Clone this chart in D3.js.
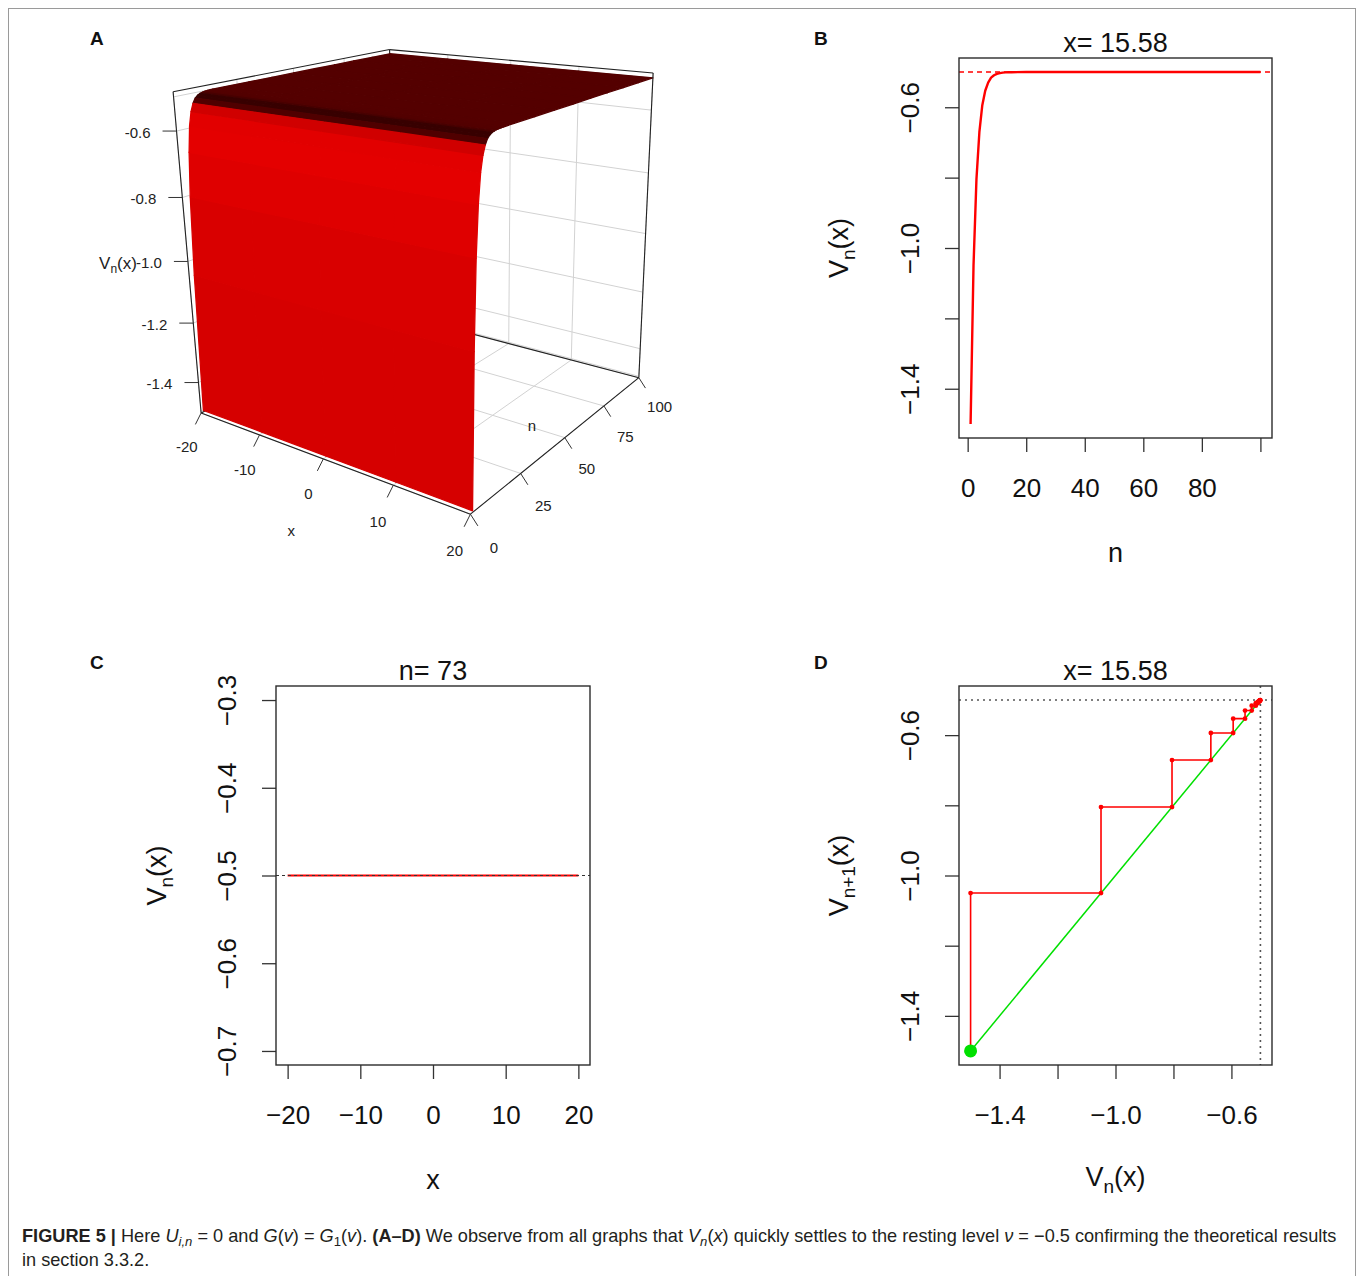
<!DOCTYPE html>
<html>
<head>
<meta charset="utf-8">
<script src="https://cdn.jsdelivr.net/npm/d3@7/dist/d3.min.js"></script>
<style>
html,body{margin:0;padding:0;background:#fff;}
text{font-family:"Liberation Sans",Arial,Helvetica,sans-serif;}
</style>
</head>
<body>
<svg id="fig" width="1360" height="1276" xmlns="http://www.w3.org/2000/svg"></svg>
<script>
// ================= DATA =================
// Panel B: V_n(x) at x = 15.58 as a function of n
const nIter = [1,2,3,4,5,6,7,8,9,10,11,12,13,14,15,20,30,40,50,60,70,80,90,100];
const vIter = [-1.5,-1.05,-0.805,-0.671,-0.594,-0.553,-0.530,-0.516,-0.509,-0.505,-0.503,-0.5015,-0.501,-0.5005,-0.5003,-0.5,-0.5,-0.5,-0.5,-0.5,-0.5,-0.5,-0.5,-0.5];
const restLevel = -0.5;
// Panel D: cobweb iterates V_0, V_1, ...
const cobwebV = [-1.5,-1.05,-0.805,-0.671,-0.594,-0.553,-0.530,-0.516,-0.509,-0.505,-0.503,-0.5015,-0.501,-0.5005];
// Panel C: V_73(x)
const cX = [-20,-10,0,10,20];
const cV = [-0.5,-0.5,-0.5,-0.5,-0.5];
// Panel A: surface V_n(x)
const surfX = [-20,-10,0,10,20];
const surfN = [1,2,3,4,5,6,7,8,9,10,11,12,13,14,15,20,30,40,50,60,70,80,90,100];
const surfV = [-1.5,-1.05,-0.805,-0.671,-0.594,-0.553,-0.530,-0.516,-0.509,-0.505,-0.503,-0.5015,-0.501,-0.5005,-0.5003,-0.5,-0.5,-0.5,-0.5,-0.5,-0.5,-0.5,-0.5,-0.5];

// tick values / labels
const aXTicks = [-20,-10,0,10,20], aXLabels = ["-20","-10","0","10","20"];
const aNTicks = [0,25,50,75,100], aNLabels = ["0","25","50","75","100"];
const aZTicks = [-1.4,-1.2,-1.0,-0.8,-0.6], aZLabels = ["-1.4","-1.2","-1.0","-0.8","-0.6"];
const bXTicks = [0,20,40,60,80,100], bXLabels = ["0","20","40","60","80",""];
const bYTicks = [-1.4,-1.2,-1.0,-0.8,-0.6], bYLabels = ["\u22121.4","","\u22121.0","","\u22120.6"];
const cXTicks = [-20,-10,0,10,20], cXLabels = ["\u221220","\u221210","0","10","20"];
const cYTicks = [-0.7,-0.6,-0.5,-0.4,-0.3], cYLabels = ["\u22120.7","\u22120.6","\u22120.5","\u22120.4","\u22120.3"];
const dXTicks = [-1.4,-1.2,-1.0,-0.8,-0.6], dXLabels = ["\u22121.4","","\u22121.0","","\u22120.6"];
const dYTicks = [-1.4,-1.2,-1.0,-0.8,-0.6], dYLabels = ["\u22121.4","","\u22121.0","","\u22120.6"];

// view calibration of the 3D box: (x, n, z) -> screen position
const boxZ = [-1.505,-0.485];
const viewAnchors = [
 [-20,0,-1.505, 201.7,413.2],
 [-20,0,-1.4, 198.8,381.7],
 [-20,0,-1.2, 193.4,321.7],
 [-20,0,-1.0, 187.9,261.0],
 [-20,0,-0.8, 182.3,198.3],
 [-20,0,-0.6, 176.5,131.7],
 [-20,0,-0.485, 172.7,92.0],
 [-10,0,-1.505, 259.5,436.0],
 [0,0,-1.505, 322.5,460.0],
 [10,0,-1.505, 390.5,485.5],
 [20,0,-1.505, 471.7,513.3],
 [20,25,-1.505, 523.3,472.0],
 [20,50,-1.505, 565.0,437.5],
 [20,75,-1.505, 603.3,406.5],
 [20,100,-1.505, 638.3,378.3],
 [20,100,-0.485, 653.0,73.0],
 [-20,100,-0.485, 390.0,49.0]
];

// ================= HELPERS =================
const svg = d3.select("#fig");
const FONT = '"Liberation Sans",Arial,Helvetica,sans-serif';

function solveLin(A, b){
  const n=b.length, M=A.map((r,i)=>[...r,b[i]]);
  for(let c=0;c<n;c++){
    let p=c; for(let r=c+1;r<n;r++) if(Math.abs(M[r][c])>Math.abs(M[p][c])) p=r;
    [M[c],M[p]]=[M[p],M[c]];
    for(let r=0;r<n;r++){ if(r===c) continue; const f=M[r][c]/M[c][c]; for(let k=c;k<=n;k++) M[r][k]-=f*M[c][k]; }
  }
  return M.map((r,i)=>r[n]/r[i]);
}
function fitCamera(corr){
  const rows=[], rhs=[];
  corr.forEach(([X,Y,Z,u0,v0])=>{
    const u=(u0-400)/300, v=(v0-300)/300;
    rows.push([X,Y,Z,1,0,0,0,0,-u*X,-u*Y,-u*Z]); rhs.push(u);
    rows.push([0,0,0,0,X,Y,Z,1,-v*X,-v*Y,-v*Z]); rhs.push(v);
  });
  const N=Array.from({length:11},()=>Array(11).fill(0)), r=Array(11).fill(0);
  rows.forEach((row,i)=>{ for(let a=0;a<11;a++){ r[a]+=row[a]*rhs[i]; for(let b=0;b<11;b++) N[a][b]+=row[a]*row[b]; } });
  const p=solveLin(N,r);
  return (X,Y,Z)=>{
    const w=p[8]*X+p[9]*Y+p[10]*Z+1;
    const u=(p[0]*X+p[1]*Y+p[2]*Z+p[3])/w, v=(p[4]*X+p[5]*Y+p[6]*Z+p[7])/w;
    return [u*300+400, v*300+300, w];
  };
}

// ================= FRAME & LETTERS =================
svg.append("rect").attr("x",8.5).attr("y",8.5).attr("width",1347).attr("height",1320)
  .attr("fill","none").attr("stroke","#9a9a9a").attr("stroke-width",1);
[["A",90,45],["B",814,45],["C",90,669],["D",814,669]].forEach(([t,x,y])=>{
  svg.append("text").attr("x",x).attr("y",y).attr("font-size",19).attr("font-weight","bold").attr("fill","#111").text(t);
});

// ================= PANEL A (3D) =================
(function(){
  const g = svg.append("g");
  const X0=-20,X1=20,N0=0,N1=100,Z0=boxZ[0],Z1=boxZ[1];
  const sx=d3.scaleLinear().domain([X0,X1]).range([0,1]);
  const sn=d3.scaleLinear().domain([N0,N1]).range([0,1]);
  const sz=d3.scaleLinear().domain([Z0,Z1]).range([0,1]);
  const cam=fitCamera(viewAnchors.map(a=>[sx(a[0]),sn(a[1]),sz(a[2]),a[3],a[4]]));
  const P=(x,n,z)=>cam(sx(x),sn(n),sz(z));
  const path=(pts)=>"M"+pts.map(p=>p[0].toFixed(2)+","+p[1].toFixed(2)).join("L");
  const seg=(a,b,col,w)=>g.append("path").attr("d",path([P(...a),P(...b)])).attr("stroke",col).attr("stroke-width",w).attr("fill","none");

  // back panels
  [[[X0,N0,Z0],[X1,N0,Z0],[X1,N1,Z0],[X0,N1,Z0]],
   [[X0,N1,Z0],[X1,N1,Z0],[X1,N1,Z1],[X0,N1,Z1]],
   [[X0,N0,Z0],[X0,N1,Z0],[X0,N1,Z1],[X0,N0,Z1]]].forEach(q=>{
     g.append("path").attr("d",path(q.map(c=>P(...c)))+"Z").attr("fill","#fff");
  });
  const gridCol="#d2d2d2";
  const zGrid=[-1.5].concat(aZTicks,[-0.5]);
  aXTicks.forEach(t=>{ seg([t,N0,Z0],[t,N1,Z0],gridCol,1); seg([t,N1,Z0],[t,N1,Z1],gridCol,1); });
  aNTicks.forEach(t=>{ seg([X0,t,Z0],[X1,t,Z0],gridCol,1); seg([X0,t,Z0],[X0,t,Z1],gridCol,1); });
  zGrid.forEach(t=>{ seg([X0,N1,t],[X1,N1,t],gridCol,1); seg([X0,N0,t],[X0,N1,t],gridCol,1); });
  // hidden back edges
  seg([X0,N1,Z0],[X1,N1,Z0],"#222",1.1);
  seg([X0,N1,Z0],[X0,N1,Z1],"#222",1.1);
  seg([X0,N0,Z0],[X0,N1,Z0],"#222",1.1);

  // surface facets, shaded by the tilt of each facet
  const shade=d3.scaleLinear().domain([0,8,15,40,55,62,76,84,90])
    .range(["#540000","#520000","#380000","#380000","#520000","#c80000","#e20000","#e40000","#d20000"]).clamp(true);
  const facets=[];
  for(let i=0;i<surfN.length-1;i++) for(let j=0;j<surfX.length-1;j++){
    const c=[[surfX[j],surfN[i],surfV[i]],[surfX[j+1],surfN[i],surfV[i]],[surfX[j+1],surfN[i+1],surfV[i+1]],[surfX[j],surfN[i+1],surfV[i+1]]];
    const pr=c.map(p=>P(...p));
    const dn=sn(surfN[i+1])-sn(surfN[i]), dz=sz(surfV[i+1])-sz(surfV[i]);
    const theta=Math.atan2(dz,dn)*180/Math.PI;
    facets.push({pr,depth:d3.mean(pr,p=>p[2]),col:shade(theta)});
  }
  facets.sort((a,b)=>b.depth-a.depth);
  g.append("g").selectAll("path").data(facets).join("path")
    .attr("d",f=>path(f.pr)+"Z").attr("fill",f=>f.col).attr("stroke",f=>f.col).attr("stroke-width",1.3).attr("stroke-linejoin","round");

  // front/visible box edges
  [[[X0,N0,Z0],[X0,N0,Z1]],[[X0,N0,Z0],[X1,N0,Z0]],[[X1,N0,Z0],[X1,N1,Z0]],
   [[X1,N1,Z0],[X1,N1,Z1]],[[X1,N1,Z1],[X0,N1,Z1]],[[X0,N1,Z1],[X0,N0,Z1]]].forEach(([a,b])=>seg(a,b,"#222",1.1));

  const lab=(x,y,t,anchor,fs)=>g.append("text").attr("x",x).attr("y",y).attr("text-anchor",anchor)
     .attr("dominant-baseline","central").attr("font-size",fs||15).attr("fill","#222").text(t);
  // z axis
  aZTicks.forEach((t,i)=>{
    const p=P(X0,N0,t);
    g.append("line").attr("x1",p[0]).attr("y1",p[1]).attr("x2",p[0]-14).attr("y2",p[1]).attr("stroke","#333");
    lab(p[0]-26,p[1]+1,aZLabels[i],"end");
  });
  // x axis
  const wX=P(0,N0,Z0)[2];
  aXTicks.forEach((t,i)=>{
    const p=P(t,N0,Z0), f=Math.sqrt(wX/p[2]);
    g.append("line").attr("x1",p[0]).attr("y1",p[1]).attr("x2",p[0]-6*f).attr("y2",p[1]+12*f).attr("stroke","#333");
    lab(p[0]-15*f,p[1]+35*f,aXLabels[i],"middle");
  });
  // n axis
  const wN=P(X1,50,Z0)[2];
  aNTicks.forEach((t,i)=>{
    const p=P(X1,t,Z0), f=Math.sqrt(wN/p[2]);
    g.append("line").attr("x1",p[0]).attr("y1",p[1]).attr("x2",p[0]+7*f).attr("y2",p[1]+11*f).attr("stroke","#333");
    lab(p[0]+22*f,p[1]+31*f,aNLabels[i],"middle");
  });
  // axis titles
  const px=P(0,N0,Z0); lab(px[0]-32,px[1]+72,"x","middle");
  const pn=P(X1,50,Z0); lab(pn[0]-33,pn[1]-12,"n","middle");
  const pz=P(X0,N0,-1.0);
  const tv=g.append("text").attr("x",pz[0]-51).attr("y",pz[1]+8).attr("text-anchor","end").attr("font-size",17).attr("fill","#222");
  tv.append("tspan").text("V"); tv.append("tspan").attr("font-size",12).attr("dy",4).text("n"); tv.append("tspan").attr("dy",-4).text("(x)");
})();

// ================= 2D PANELS =================
function panel2D(o){
  const g=svg.append("g").attr("font-family",FONT);
  const x=d3.scaleLinear().domain(o.xDom).range([o.L,o.R]);
  const y=d3.scaleLinear().domain(o.yDom).range([o.B,o.T]);
  const gx=g.append("g").attr("transform",`translate(0,${o.B})`)
    .call(d3.axisBottom(x).tickValues(o.xTicks).tickSize(14).tickFormat((d,i)=>o.xLabels[i]));
  gx.select(".domain").remove();
  gx.attr("font-family",FONT);
  gx.selectAll("line").attr("stroke","#333").attr("stroke-width",1.3);
  gx.selectAll("text").attr("y",50).attr("dy",null).attr("dominant-baseline","central").attr("font-size",26).attr("fill","#111");
  const gy=g.append("g").attr("transform",`translate(${o.L},0)`)
    .call(d3.axisLeft(y).tickValues(o.yTicks).tickSize(14).tickFormat((d,i)=>o.yLabels[i]));
  gy.select(".domain").remove();
  gy.attr("font-family",FONT);
  gy.selectAll("line").attr("stroke","#333").attr("stroke-width",1.3);
  gy.selectAll("text").attr("x",0).attr("y",-49).attr("dy",null).attr("transform","rotate(-90)")
    .attr("text-anchor","middle").attr("dominant-baseline","central").attr("font-size",26).attr("fill","#111");
  const plot=g.append("g");
  g.append("rect").attr("x",o.L).attr("y",o.T).attr("width",o.R-o.L).attr("height",o.B-o.T)
    .attr("fill","none").attr("stroke","#2b2b2b").attr("stroke-width",1.4);
  g.append("text").attr("x",(o.L+o.R)/2).attr("y",o.T-6).attr("text-anchor","middle").attr("font-size",27).attr("fill","#111").text(o.title);
  return {g:plot,x,y,root:g};
}
function vTitle(g,x,y,rot,sub){
  const t=g.append("text").attr("transform",`translate(${x},${y}) rotate(${rot})`).attr("text-anchor","middle").attr("font-size",27).attr("fill","#111");
  t.append("tspan").text("V"); t.append("tspan").attr("font-size",19).attr("dy",7).text(sub); t.append("tspan").attr("dy",-7).text("(x)");
}
function plainTitle(g,x,y,txt){
  g.append("text").attr("x",x).attr("y",y).attr("text-anchor","middle").attr("font-size",27).attr("fill","#111").text(txt);
}

// ---- Panel B ----
(function(){
  const o={L:959,R:1272,T:58,B:438,xDom:[-2.96,103.96],yDom:[-1.54,-0.46],
    xTicks:bXTicks,xLabels:bXLabels,yTicks:bYTicks,yLabels:bYLabels,title:"x= 15.58"};
  const p=panel2D(o);
  p.g.append("line").attr("x1",o.L).attr("x2",o.R).attr("y1",p.y(restLevel)).attr("y2",p.y(restLevel))
    .attr("stroke","#ff0000").attr("stroke-width",1.4).attr("stroke-dasharray","5,4");
  p.g.append("path").datum(nIter.map((n,i)=>[n,vIter[i]]))
    .attr("d",d3.line().x(d=>p.x(d[0])).y(d=>p.y(d[1])))
    .attr("fill","none").attr("stroke","#ff0000").attr("stroke-width",2.4).attr("stroke-linejoin","round");
  plainTitle(p.root,(o.L+o.R)/2,o.B+124,"n");
  vTitle(p.root,o.L-111,(o.T+o.B)/2,-90,"n");
})();

// ---- Panel C ----
(function(){
  const o={L:276,R:590,T:686,B:1065,xDom:[-21.6,21.6],yDom:[-0.716,-0.284],
    xTicks:cXTicks,xLabels:cXLabels,yTicks:cYTicks,yLabels:cYLabels,title:"n= 73"};
  const p=panel2D(o);
  p.g.append("path").datum(cX.map((x,i)=>[x,cV[i]]))
    .attr("d",d3.line().x(d=>p.x(d[0])).y(d=>p.y(d[1])))
    .attr("fill","none").attr("stroke","#ff0000").attr("stroke-width",2.2);
  p.g.append("line").attr("x1",o.L).attr("x2",o.R).attr("y1",p.y(restLevel)).attr("y2",p.y(restLevel))
    .attr("stroke","#333").attr("stroke-width",1.1).attr("stroke-dasharray","3,3");
  plainTitle(p.root,(o.L+o.R)/2,o.B+124,"x");
  vTitle(p.root,o.L-110,(o.T+o.B)/2,-90,"n");
})();

// ---- Panel D ----
(function(){
  const o={L:959,R:1272,T:686,B:1065,xDom:[-1.54,-0.46],yDom:[-1.54,-0.46],
    xTicks:dXTicks,xLabels:dXLabels,yTicks:dYTicks,yLabels:dYLabels,title:"x= 15.58"};
  const p=panel2D(o);
  p.g.append("line").attr("x1",o.L).attr("x2",o.R).attr("y1",p.y(restLevel)).attr("y2",p.y(restLevel))
    .attr("stroke","#555").attr("stroke-width",1.6).attr("stroke-dasharray","2,4");
  p.g.append("line").attr("x1",p.x(restLevel)).attr("x2",p.x(restLevel)).attr("y1",o.T).attr("y2",o.B)
    .attr("stroke","#555").attr("stroke-width",1.6).attr("stroke-dasharray","2,4");
  const v0=cobwebV[0], vEnd=restLevel;
  p.g.append("line").attr("x1",p.x(v0)).attr("y1",p.y(v0)).attr("x2",p.x(vEnd)).attr("y2",p.y(vEnd))
    .attr("stroke","#00e000").attr("stroke-width",1.5);
  const pts=[[cobwebV[0],cobwebV[0]]], dots=[];
  for(let k=0;k<cobwebV.length-1;k++){
    pts.push([cobwebV[k],cobwebV[k+1]]); pts.push([cobwebV[k+1],cobwebV[k+1]]);
    dots.push([cobwebV[k],cobwebV[k+1]]); dots.push([cobwebV[k+1],cobwebV[k+1]]);
  }
  p.g.append("path").datum(pts).attr("d",d3.line().x(d=>p.x(d[0])).y(d=>p.y(d[1])))
    .attr("fill","none").attr("stroke","#ff0000").attr("stroke-width",1.6);
  p.g.selectAll("circle.dot").data(dots).join("circle").attr("class","dot")
    .attr("cx",d=>p.x(d[0])).attr("cy",d=>p.y(d[1])).attr("r",2.4).attr("fill","#ff0000");
  p.g.append("circle").attr("cx",p.x(v0)).attr("cy",p.y(v0)).attr("r",6.5).attr("fill","#00e000");
  vTitle(p.root,(o.L+o.R)/2,o.B+121,0,"n");
  vTitle(p.root,o.L-111,(o.T+o.B)/2,-90,"n+1");
})();

// ================= CAPTION =================
(function(){
  const cap=svg.append("g");
  const col="#231f20";
  const t1=cap.append("text").attr("x",0).attr("y",1242).attr("font-size",18).attr("fill",col);
  const t2=cap.append("text").attr("x",0).attr("y",1266).attr("font-size",18).attr("fill",col);
  const s=(t,txt,o={})=>{const e=t.append("tspan").text(txt); if(o.b) e.attr("font-weight","bold"); if(o.i) e.attr("font-style","italic");
    if(o.dy) e.attr("dy",o.dy); if(o.fs) e.attr("font-size",o.fs); return e;};
  s(t1,"FIGURE 5 |",{b:true}); s(t1," Here "); s(t1,"U",{i:true}); s(t1,"i,n",{i:true,dy:4,fs:13});
  s(t1," = 0 and ",{dy:-4}); s(t1,"G",{i:true}); s(t1,"("); s(t1,"v",{i:true}); s(t1,") = "); s(t1,"G",{i:true});
  s(t1,"1",{dy:4,fs:13}); s(t1,"(",{dy:-4}); s(t1,"v",{i:true}); s(t1,"). "); s(t1,"(A\u2013D)",{b:true});
  s(t1," We observe from all graphs that "); s(t1,"V",{i:true}); s(t1,"n",{i:true,dy:4,fs:13}); s(t1,"(",{dy:-4});
  s(t1,"x",{i:true}); s(t1,") quickly settles to the resting level "); s(t1,"\u03BD",{i:true});
  s(t1," = \u22120.5 confirming the theoretical results");
  s(t2,"in section 3.3.2.");
  const len=t1.node().getComputedTextLength();
  const k=1315/len;
  cap.attr("transform",`translate(22,0) scale(${k},1)`);
})();
</script>
</body>
</html>
